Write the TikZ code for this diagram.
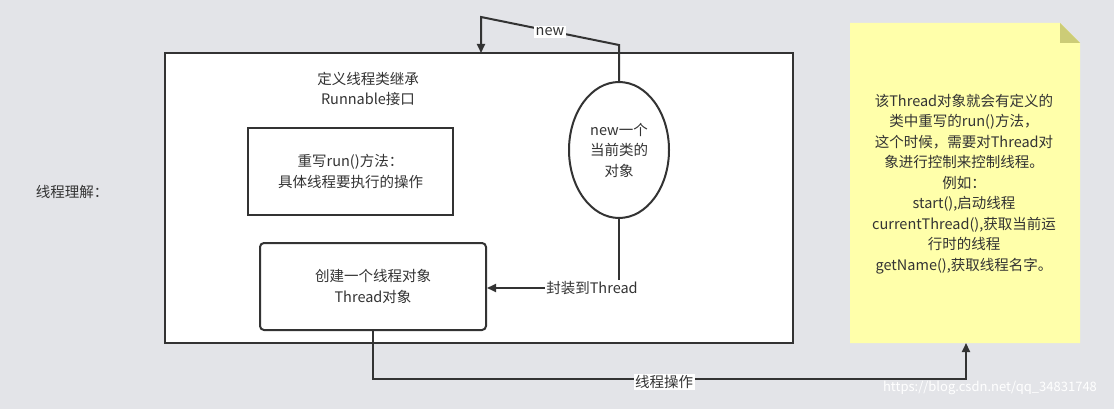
\documentclass[tikz,border=0pt]{standalone}
\usepackage{fontspec}
\setmainfont{Noto Sans CJK SC}
\usetikzlibrary{shapes.geometric,arrows.meta}
\definecolor{bg}{HTML}{E3E4E8}
\definecolor{ln}{HTML}{333333}
\definecolor{note}{HTML}{FFFFAA}
\definecolor{fold}{HTML}{CCCC77}
\tikzset{
  x=1pt,y=-1pt,
  every node/.style={font=\fontsize{14.5}{20.5}\selectfont,text=ln,align=center},
  box/.style={draw=ln,line width=2pt,fill=white,inner sep=0pt},
  conn/.style={draw=ln,line width=2pt,-{Triangle[length=9pt,width=8pt]}},
  lbl/.style={fill=white,inner sep=1.5pt}
}
\begin{document}
\begin{tikzpicture}
\useasboundingbox[fill=bg] (0,0) rectangle (1114,409);
\node[box,minimum width=628pt,minimum height=290pt] (main) at (479,198) {};
\node (title) at (368,89) {定义线程类继承\\Runnable接口};
\node[box,minimum width=205pt,minimum height=87pt] (b1) at (350.5,171.5) {重写run()方法：\\具体线程要执行的操作};
\node[box,rounded corners=4pt,minimum width=226pt,minimum height=87pt] (b2) at (373,286.5) {创建一个线程对象\\Thread对象};
\node[box,ellipse,minimum width=100pt,minimum height=136pt] (el) at (619,150) {new一个\\当前类的\\对象};
\node (left) at (72,192) {线程理解：};
% note
\fill[note] (850,23) -- (1060,23) -- (1080,43) -- (1080,343) -- (850,343) -- cycle;
\fill[fold] (1060,23) -- (1080,43) -- (1060,43) -- cycle;
\coordinate (notebot) at (966,343);
\node (notetxt) at (964,184) {该Thread对象就会有定义的\\类中重写的run()方法，\\这个时候，需要对Thread对\\象进行控制来控制线程。\\例如：\\start(),启动线程\\currentThread(),获取当前运\\行时的线程\\getName(),获取线程名字。};
% connectors
\coordinate (c1) at (619,45);
\coordinate (c2) at (481,17);
\coordinate (c3) at (481,53);
\draw[conn] (el.north) -- (c1) -- (c2) -- (c3);
\node[lbl] at (550,32) {new};
\coordinate (d1) at (619,288);
\coordinate (d2) at (487,288);
\draw[conn] (el.south) -- (d1) -- (d2);
\node[lbl] at (592,288) {封装到Thread};
\coordinate (e1) at (373,379);
\coordinate (e2) at (966,379);
\draw[conn] (b2.south) -- (e1) -- (e2) -- (notebot);
\node[lbl] at (664,382) {线程操作};
\node[text=white,font=\fontsize{13}{15}\selectfont] (wm) at (990,388) {https://blog.csdn.net/qq\_34831748};
\end{tikzpicture}
\end{document}
